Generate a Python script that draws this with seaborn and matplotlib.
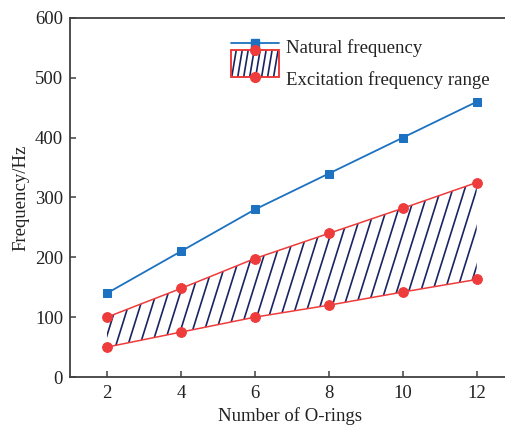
import matplotlib
matplotlib.use('Agg')
import matplotlib.pyplot as plt
import seaborn as sns
import numpy as np
import pandas as pd
from matplotlib.collections import LineCollection
from matplotlib.lines import Line2D
from matplotlib.patches import Rectangle

sns.set_style('ticks')
plt.rcParams['font.family'] = ['Liberation Serif', 'DejaVu Serif']

# data
o_rings = [2, 4, 6, 8, 10, 12]
natural_freq = [140, 210, 280, 340, 400, 460]
excite_upper = [100, 148, 198, 240, 282, 325]
excite_lower = [50, 75, 100, 120, 142, 163]

BLUE = '#1c72c0'
RED = '#ee3b3b'
NAVY = '#1b2462'
SPINE = '#404040'

df = pd.DataFrame({'n': o_rings, 'nat': natural_freq,
                   'up': excite_upper, 'low': excite_lower})

fig = plt.figure(figsize=(5.06, 4.25), dpi=100)
ax = fig.add_axes([70 / 506, 48 / 425, 440 / 506, 359 / 425])

# excitation range: invisible polygon used as clip for steep hatch lines
poly = ax.fill_between(df['n'], df['low'], df['up'], facecolor='none',
                       edgecolor='none', linewidth=0)
ax.set_xlim(1, 12.9)
ax.set_ylim(0, 600)
fig.canvas.draw()

bb = ax.get_window_extent()
slope_px = 3.2          # dy/dx of hatch lines in pixels
step_px = 12.0          # horizontal spacing in pixels
dx_ax = (bb.height / slope_px) / bb.width
step_ax = step_px / bb.width
offs = np.arange(-0.3, 1.2, step_ax)
segs = [[(c, 0), (c + dx_ax, 1)] for c in offs]
lc = LineCollection(segs, colors=NAVY, linewidths=1.2, transform=ax.transAxes, zorder=2)
ax.add_collection(lc)
lc.set_clip_path(poly.get_paths()[0], ax.transData)

sns.lineplot(data=df, x='n', y='up', color=RED, lw=1.1, marker='o', markersize=7,
             markeredgecolor=RED, ax=ax, zorder=4)
sns.lineplot(data=df, x='n', y='low', color=RED, lw=1.1, marker='o', markersize=7,
             markeredgecolor=RED, ax=ax, zorder=4)
sns.lineplot(data=df, x='n', y='nat', color=BLUE, lw=1.3, marker='s', markersize=5.5,
             markeredgecolor=BLUE, ax=ax, zorder=5)

ax.set_xlim(1, 12.9)
ax.set_ylim(0, 600)
ax.set_xticks(o_rings)
ax.set_yticks(range(0, 601, 100))
ax.tick_params(direction='in', length=4, width=1.1, colors=SPINE,
               labelcolor='#222222', labelsize=13.5, pad=6)
ax.tick_params(axis='y', pad=5)
for s in ['left', 'bottom', 'top']:
    ax.spines[s].set_color(SPINE)
    ax.spines[s].set_linewidth(1.3)
ax.spines['right'].set_visible(False)
ax.set_xlabel('Number of O-rings', fontsize=13.5, color='#222222', labelpad=3.5)
ax.set_ylabel('Frequency/Hz', fontsize=13.5, color='#222222', labelpad=4)


class RangeHandler:
    def legend_artist(self, legend, orig_handle, fontsize, handlebox):
        x0, y0 = handlebox.xdescent, handlebox.ydescent
        w, h = handlebox.width, handlebox.height
        tr = handlebox.get_transform()
        bg = Rectangle((x0, y0), w, h, facecolor='white', edgecolor=RED, lw=1.2, transform=tr)
        handlebox.add_artist(bg)
        n = 8
        for i in range(n):
            xa = x0 + (i + 0.15) * w / n
            handlebox.add_artist(Line2D([xa, xa + w / n * 0.7], [y0 + 1, y0 + h - 1],
                                        color=NAVY, lw=1.2, transform=tr))
        handlebox.add_artist(Rectangle((x0, y0), w, h, facecolor='none', edgecolor=RED,
                                       lw=1.2, transform=tr))
        handlebox.add_artist(Line2D([x0 + w / 2, x0 + w / 2], [y0, y0 + h], ls='none',
                                    marker='o', markersize=7, color=RED, transform=tr))
        return bg


nat_handle = Line2D([], [], color=BLUE, lw=1.3, marker='s', markersize=5.5)
range_handle = Rectangle((0, 0), 1, 1)
ax.legend([nat_handle, range_handle], ['Natural frequency', 'Excitation frequency range'],
          handler_map={Rectangle: RangeHandler()}, frameon=False, fontsize=13.5,
          loc='upper left', bbox_to_anchor=(231 / 506, 1 - 33 / 425),
          bbox_transform=fig.transFigure, handlelength=2.55, handleheight=1.9,
          handletextpad=0.4, labelspacing=0.25, borderpad=0, borderaxespad=0,
          labelcolor='#222222')

fig.savefig('out.png', dpi=100)
